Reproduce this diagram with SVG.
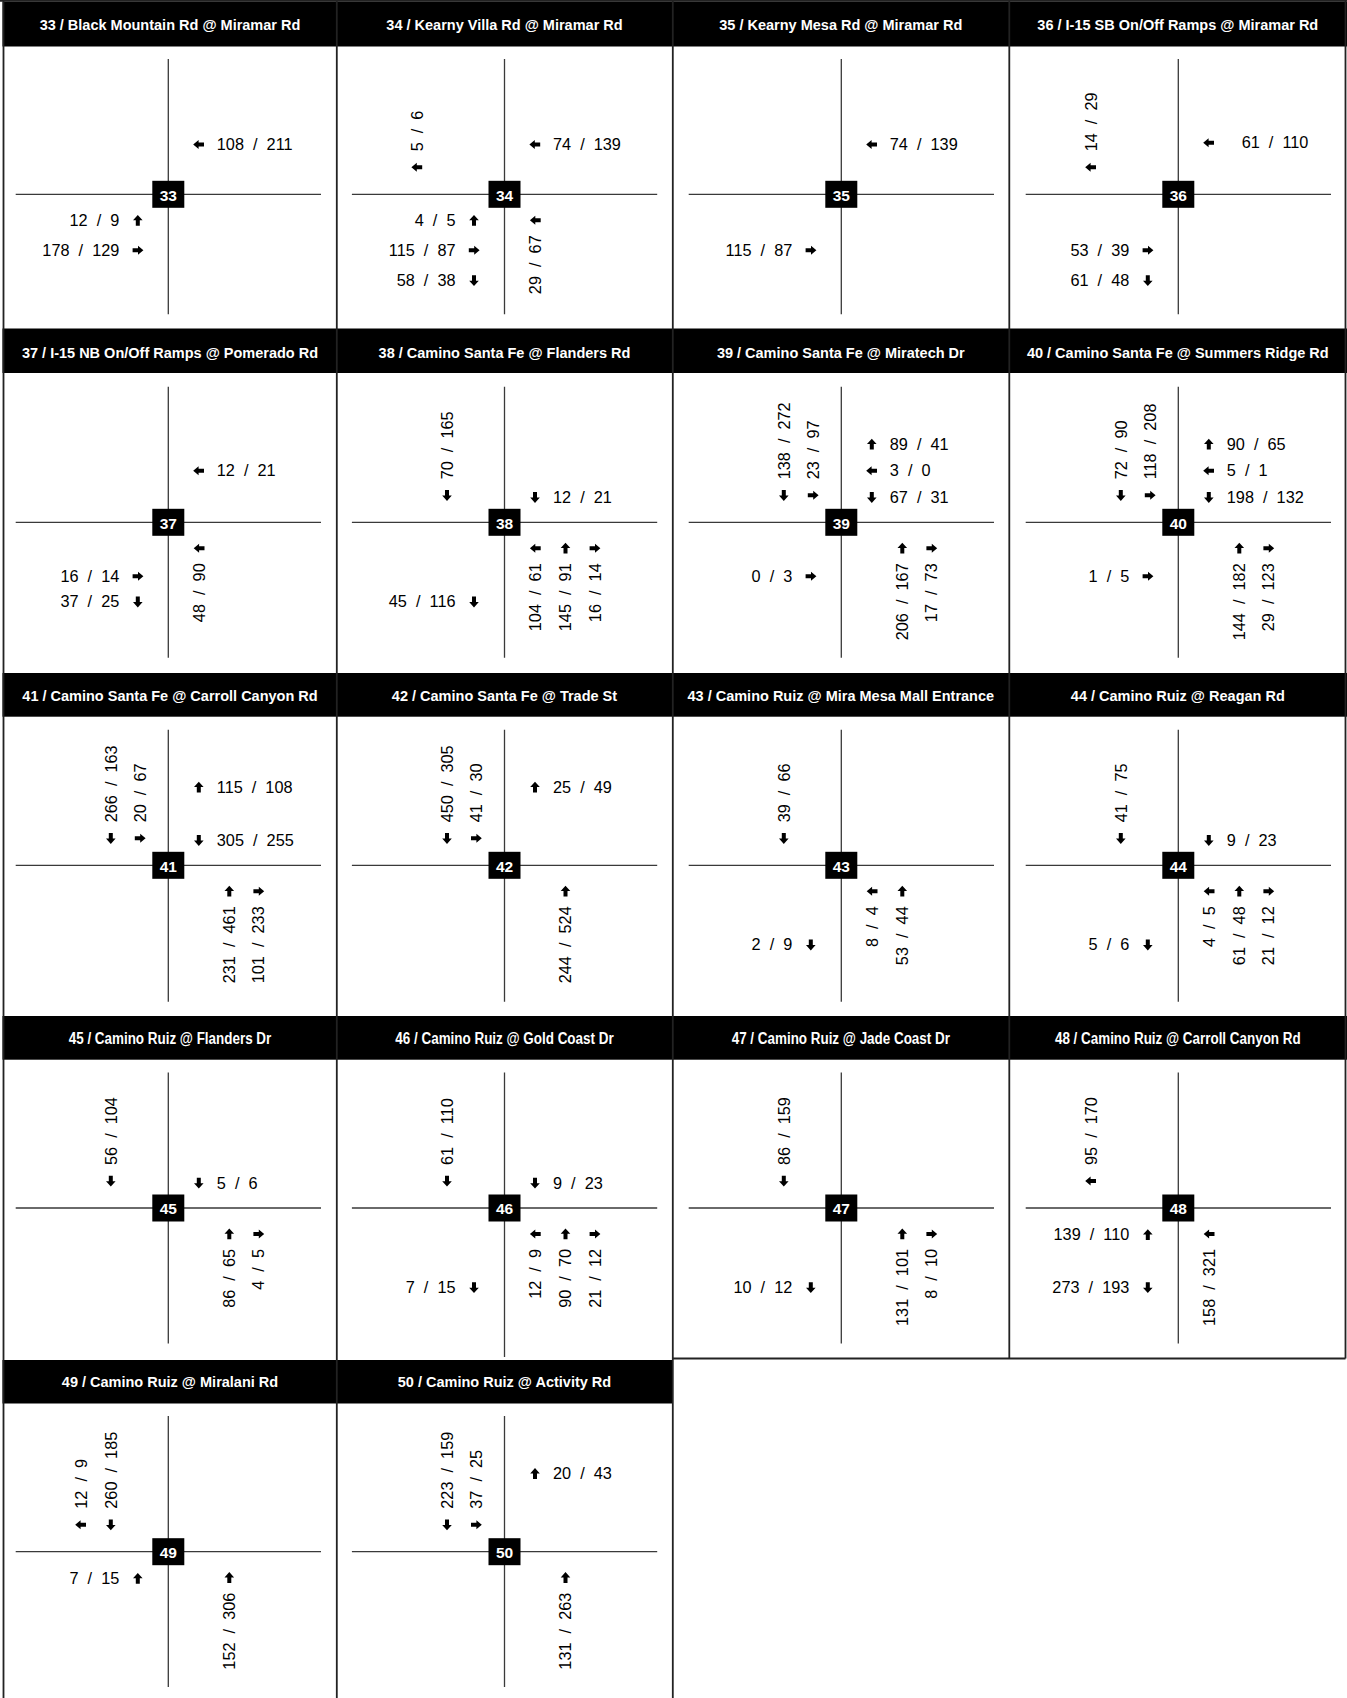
<svg xmlns="http://www.w3.org/2000/svg" width="1347" height="1698" viewBox="0 0 1347 1698">
<style>
.hd{fill:#000}
.ht{font-family:"Liberation Sans",Arial,sans-serif;font-weight:bold;font-size:14.5px;fill:#fff;text-anchor:middle}
.hn{font-size:16px}
.rd{stroke:#3a3a3a;stroke-width:1.3;fill:none}
.bx{fill:#000}
.bt{font-family:"Liberation Sans",Arial,sans-serif;font-weight:bold;font-size:15.5px;fill:#fff;text-anchor:middle}
.n{font-family:"Liberation Sans",Arial,sans-serif;font-size:16.3px;fill:#000}
.e{text-anchor:end}
.fr{stroke:#222;stroke-width:1.8;fill:none}
</style>
<defs>
<path id="au" d="M0,-5.6L4.8,-0.2L2,-0.2L2,5.2L-2,5.2L-2,-0.2L-4.8,-0.2Z" fill="#000"/>
<path id="ad" d="M0,5.6L4.8,0.2L2,0.2L2,-5.2L-2,-5.2L-2,0.2L-4.8,0.2Z" fill="#000"/>
<path id="ar" d="M5.6,0L0.2,4.5L0.2,2L-5.2,2L-5.2,-2L0.2,-2L0.2,-4.5Z" fill="#000"/>
<path id="al" d="M-5.6,0L-0.2,4.5L-0.2,2L5.2,2L5.2,-2L-0.2,-2L-0.2,-4.5Z" fill="#000"/>
</defs>
<rect width="1347" height="1698" fill="#fff"/>

<g id="n33">
<rect class="hd" x="2.5" y="1.5" width="334.5" height="45"/>
<text class="ht" x="170" y="30">33 / Black Mountain Rd @ Miramar Rd</text>
<path class="rd" d="M168.3,59V314.3M15.7,194.3H321"/>
<rect class="bx" x="152.3" y="180.8" width="32" height="27"/>
<text class="bt" x="168.3" y="200.7">33</text>
<use href="#al" x="198.8" y="144.5"/><text class="n" x="216.8" y="150">108&#160;&#160;/&#160;&#160;211</text>
<text class="n e" x="119.3" y="226">12&#160;&#160;/&#160;&#160;9</text><use href="#au" x="137.8" y="220.5"/>
<text class="n e" x="119.3" y="255.7">178&#160;&#160;/&#160;&#160;129</text><use href="#ar" x="137.8" y="250.2"/>
</g>

<g id="n34">
<rect class="hd" x="337" y="1.5" width="336" height="45"/>
<text class="ht" x="504.5" y="30">34 / Kearny Villa Rd @ Miramar Rd</text>
<path class="rd" d="M504.5,59V314.3M351.9,194.3H657.2"/>
<rect class="bx" x="488.5" y="180.8" width="32" height="27"/>
<text class="bt" x="504.5" y="200.7">34</text>
<text class="n" transform="translate(422.8,151.3) rotate(-90)">5&#160;&#160;/&#160;&#160;6</text><use href="#al" x="417" y="167.3"/>
<use href="#al" x="535" y="144.5"/><text class="n" x="553" y="150">74&#160;&#160;/&#160;&#160;139</text>
<text class="n e" x="455.5" y="226">4&#160;&#160;/&#160;&#160;5</text><use href="#au" x="474" y="220.5"/>
<text class="n e" x="455.5" y="255.7">115&#160;&#160;/&#160;&#160;87</text><use href="#ar" x="474" y="250.2"/>
<text class="n e" x="455.5" y="286">58&#160;&#160;/&#160;&#160;38</text><use href="#ad" x="474" y="280.5"/>
<use href="#al" x="535.5" y="220.3"/><text class="n e" transform="translate(541.3,235.3) rotate(-90)">29&#160;&#160;/&#160;&#160;67</text>
</g>

<g id="n35">
<rect class="hd" x="673" y="1.5" width="336.5" height="45"/>
<text class="ht" x="840.8" y="30">35 / Kearny Mesa Rd @ Miramar Rd</text>
<path class="rd" d="M841.3,59V314.3M688.7,194.3H994"/>
<rect class="bx" x="825.3" y="180.8" width="32" height="27"/>
<text class="bt" x="841.3" y="200.7">35</text>
<use href="#al" x="871.8" y="144.5"/><text class="n" x="889.8" y="150">74&#160;&#160;/&#160;&#160;139</text>
<text class="n e" x="792.3" y="255.7">115&#160;&#160;/&#160;&#160;87</text><use href="#ar" x="810.8" y="250.2"/>
</g>

<g id="n36">
<rect class="hd" x="1009.5" y="1.5" width="337.5" height="45"/>
<text class="ht" x="1177.8" y="30">36 / I-15 SB On/Off Ramps @ Miramar Rd</text>
<path class="rd" d="M1178.3,59V314.3M1025.7,194.3H1331"/>
<rect class="bx" x="1162.3" y="180.8" width="32" height="27"/>
<text class="bt" x="1178.3" y="200.7">36</text>
<text class="n" transform="translate(1096.6,151.3) rotate(-90)">14&#160;&#160;/&#160;&#160;29</text><use href="#al" x="1090.8" y="167.3"/>
<use href="#al" x="1208.8" y="142.8"/><text class="n" x="1241.7" y="148.3">61&#160;&#160;/&#160;&#160;110</text>
<text class="n e" x="1129.3" y="255.7">53&#160;&#160;/&#160;&#160;39</text><use href="#ar" x="1147.8" y="250.2"/>
<text class="n e" x="1129.3" y="286">61&#160;&#160;/&#160;&#160;48</text><use href="#ad" x="1147.8" y="280.5"/>
</g>

<g id="n37">
<rect class="hd" x="2.5" y="328.5" width="334.5" height="44.5"/>
<text class="ht" x="170" y="358.3">37 / I-15 NB On/Off Ramps @ Pomerado Rd</text>
<path class="rd" d="M168.3,386.8V657.8M15.7,522.3H321"/>
<rect class="bx" x="152.3" y="508.8" width="32" height="27"/>
<text class="bt" x="168.3" y="528.7">37</text>
<use href="#al" x="198.8" y="470.8"/><text class="n" x="216.8" y="476.3">12&#160;&#160;/&#160;&#160;21</text>
<text class="n e" x="119.3" y="581.7">16&#160;&#160;/&#160;&#160;14</text><use href="#ar" x="137.8" y="576.2"/>
<text class="n e" x="119.3" y="607.3">37&#160;&#160;/&#160;&#160;25</text><use href="#ad" x="137.8" y="601.8"/>
<use href="#al" x="199.3" y="548.3"/><text class="n e" transform="translate(205.1,563.3) rotate(-90)">48&#160;&#160;/&#160;&#160;90</text>
</g>

<g id="n38">
<rect class="hd" x="337" y="328.5" width="336" height="44.5"/>
<text class="ht" x="504.5" y="358.3">38 / Camino Santa Fe @ Flanders Rd</text>
<path class="rd" d="M504.5,386.8V657.8M351.9,522.3H657.2"/>
<rect class="bx" x="488.5" y="508.8" width="32" height="27"/>
<text class="bt" x="504.5" y="528.7">38</text>
<text class="n" transform="translate(452.8,479.3) rotate(-90)">70&#160;&#160;/&#160;&#160;165</text><use href="#ad" x="447" y="495.3"/>
<use href="#ad" x="535" y="497.3"/><text class="n" x="553" y="502.8">12&#160;&#160;/&#160;&#160;21</text>
<text class="n e" x="455.5" y="607.3">45&#160;&#160;/&#160;&#160;116</text><use href="#ad" x="474" y="601.8"/>
<use href="#al" x="535.5" y="548.3"/><text class="n e" transform="translate(541.3,563.3) rotate(-90)">104&#160;&#160;/&#160;&#160;61</text>
<use href="#au" x="565.5" y="548.3"/><text class="n e" transform="translate(571.3,563.3) rotate(-90)">145&#160;&#160;/&#160;&#160;91</text>
<use href="#ar" x="594.8" y="548.3"/><text class="n e" transform="translate(600.6,563.3) rotate(-90)">16&#160;&#160;/&#160;&#160;14</text>
</g>

<g id="n39">
<rect class="hd" x="673" y="328.5" width="336.5" height="44.5"/>
<text class="ht" x="840.8" y="358.3">39 / Camino Santa Fe @ Miratech Dr</text>
<path class="rd" d="M841.3,386.8V657.8M688.7,522.3H994"/>
<rect class="bx" x="825.3" y="508.8" width="32" height="27"/>
<text class="bt" x="841.3" y="528.7">39</text>
<text class="n" transform="translate(789.6,479.3) rotate(-90)">138&#160;&#160;/&#160;&#160;272</text><use href="#ad" x="783.8" y="495.3"/>
<text class="n" transform="translate(818.8,479.3) rotate(-90)">23&#160;&#160;/&#160;&#160;97</text><use href="#ar" x="813" y="495.3"/>
<use href="#au" x="871.8" y="444.3"/><text class="n" x="889.8" y="449.8">89&#160;&#160;/&#160;&#160;41</text>
<use href="#al" x="871.8" y="470.8"/><text class="n" x="889.8" y="476.3">3&#160;&#160;/&#160;&#160;0</text>
<use href="#ad" x="871.8" y="497.3"/><text class="n" x="889.8" y="502.8">67&#160;&#160;/&#160;&#160;31</text>
<text class="n e" x="792.3" y="581.7">0&#160;&#160;/&#160;&#160;3</text><use href="#ar" x="810.8" y="576.2"/>
<use href="#au" x="902.3" y="548.3"/><text class="n e" transform="translate(908.1,563.3) rotate(-90)">206&#160;&#160;/&#160;&#160;167</text>
<use href="#ar" x="931.6" y="548.3"/><text class="n e" transform="translate(937.4,563.3) rotate(-90)">17&#160;&#160;/&#160;&#160;73</text>
</g>

<g id="n40">
<rect class="hd" x="1009.5" y="328.5" width="337.5" height="44.5"/>
<text class="ht" x="1177.8" y="358.3">40 / Camino Santa Fe @ Summers Ridge Rd</text>
<path class="rd" d="M1178.3,386.8V657.8M1025.7,522.3H1331"/>
<rect class="bx" x="1162.3" y="508.8" width="32" height="27"/>
<text class="bt" x="1178.3" y="528.7">40</text>
<text class="n" transform="translate(1126.6,479.3) rotate(-90)">72&#160;&#160;/&#160;&#160;90</text><use href="#ad" x="1120.8" y="495.3"/>
<text class="n" transform="translate(1155.8,479.3) rotate(-90)">118&#160;&#160;/&#160;&#160;208</text><use href="#ar" x="1150" y="495.3"/>
<use href="#au" x="1208.8" y="444.3"/><text class="n" x="1226.8" y="449.8">90&#160;&#160;/&#160;&#160;65</text>
<use href="#al" x="1208.8" y="470.8"/><text class="n" x="1226.8" y="476.3">5&#160;&#160;/&#160;&#160;1</text>
<use href="#ad" x="1208.8" y="497.3"/><text class="n" x="1226.8" y="502.8">198&#160;&#160;/&#160;&#160;132</text>
<text class="n e" x="1129.3" y="581.7">1&#160;&#160;/&#160;&#160;5</text><use href="#ar" x="1147.8" y="576.2"/>
<use href="#au" x="1239.3" y="548.3"/><text class="n e" transform="translate(1245.1,563.3) rotate(-90)">144&#160;&#160;/&#160;&#160;182</text>
<use href="#ar" x="1268.6" y="548.3"/><text class="n e" transform="translate(1274.4,563.3) rotate(-90)">29&#160;&#160;/&#160;&#160;123</text>
</g>

<g id="n41">
<rect class="hd" x="2.5" y="673" width="334.5" height="43.7"/>
<text class="ht" x="170" y="700.7">41 / Camino Santa Fe @ Carroll Canyon Rd</text>
<path class="rd" d="M168.3,729.8V1001.7M15.7,865.3H321"/>
<rect class="bx" x="152.3" y="851.8" width="32" height="27"/>
<text class="bt" x="168.3" y="871.7">41</text>
<text class="n" transform="translate(116.6,822.3) rotate(-90)">266&#160;&#160;/&#160;&#160;163</text><use href="#ad" x="110.8" y="838.3"/>
<text class="n" transform="translate(145.8,822.3) rotate(-90)">20&#160;&#160;/&#160;&#160;67</text><use href="#ar" x="140" y="838.3"/>
<use href="#au" x="198.8" y="787.3"/><text class="n" x="216.8" y="792.8">115&#160;&#160;/&#160;&#160;108</text>
<use href="#ad" x="198.8" y="840.3"/><text class="n" x="216.8" y="845.8">305&#160;&#160;/&#160;&#160;255</text>
<use href="#au" x="229.3" y="891.3"/><text class="n e" transform="translate(235.1,906.3) rotate(-90)">231&#160;&#160;/&#160;&#160;461</text>
<use href="#ar" x="258.6" y="891.3"/><text class="n e" transform="translate(264.4,906.3) rotate(-90)">101&#160;&#160;/&#160;&#160;233</text>
</g>

<g id="n42">
<rect class="hd" x="337" y="673" width="336" height="43.7"/>
<text class="ht" x="504.5" y="700.7">42 / Camino Santa Fe @ Trade St</text>
<path class="rd" d="M504.5,729.8V1001.7M351.9,865.3H657.2"/>
<rect class="bx" x="488.5" y="851.8" width="32" height="27"/>
<text class="bt" x="504.5" y="871.7">42</text>
<text class="n" transform="translate(452.8,822.3) rotate(-90)">450&#160;&#160;/&#160;&#160;305</text><use href="#ad" x="447" y="838.3"/>
<text class="n" transform="translate(482,822.3) rotate(-90)">41&#160;&#160;/&#160;&#160;30</text><use href="#ar" x="476.2" y="838.3"/>
<use href="#au" x="535" y="787.3"/><text class="n" x="553" y="792.8">25&#160;&#160;/&#160;&#160;49</text>
<use href="#au" x="565.5" y="891.3"/><text class="n e" transform="translate(571.3,906.3) rotate(-90)">244&#160;&#160;/&#160;&#160;524</text>
</g>

<g id="n43">
<rect class="hd" x="673" y="673" width="336.5" height="43.7"/>
<text class="ht" x="840.8" y="700.7">43 / Camino Ruiz @ Mira Mesa Mall Entrance</text>
<path class="rd" d="M841.3,729.8V1001.7M688.7,865.3H994"/>
<rect class="bx" x="825.3" y="851.8" width="32" height="27"/>
<text class="bt" x="841.3" y="871.7">43</text>
<text class="n" transform="translate(789.6,822.3) rotate(-90)">39&#160;&#160;/&#160;&#160;66</text><use href="#ad" x="783.8" y="838.3"/>
<text class="n e" x="792.3" y="950.3">2&#160;&#160;/&#160;&#160;9</text><use href="#ad" x="810.8" y="944.8"/>
<use href="#al" x="872.3" y="891.3"/><text class="n e" transform="translate(878.1,906.3) rotate(-90)">8&#160;&#160;/&#160;&#160;4</text>
<use href="#au" x="902.3" y="891.3"/><text class="n e" transform="translate(908.1,906.3) rotate(-90)">53&#160;&#160;/&#160;&#160;44</text>
</g>

<g id="n44">
<rect class="hd" x="1009.5" y="673" width="337.5" height="43.7"/>
<text class="ht" x="1177.8" y="700.7">44 / Camino Ruiz @ Reagan Rd</text>
<path class="rd" d="M1178.3,729.8V1001.7M1025.7,865.3H1331"/>
<rect class="bx" x="1162.3" y="851.8" width="32" height="27"/>
<text class="bt" x="1178.3" y="871.7">44</text>
<text class="n" transform="translate(1126.6,822.3) rotate(-90)">41&#160;&#160;/&#160;&#160;75</text><use href="#ad" x="1120.8" y="838.3"/>
<use href="#ad" x="1208.8" y="840.3"/><text class="n" x="1226.8" y="845.8">9&#160;&#160;/&#160;&#160;23</text>
<text class="n e" x="1129.3" y="950.3">5&#160;&#160;/&#160;&#160;6</text><use href="#ad" x="1147.8" y="944.8"/>
<use href="#al" x="1209.3" y="891.3"/><text class="n e" transform="translate(1215.1,906.3) rotate(-90)">4&#160;&#160;/&#160;&#160;5</text>
<use href="#au" x="1239.3" y="891.3"/><text class="n e" transform="translate(1245.1,906.3) rotate(-90)">61&#160;&#160;/&#160;&#160;48</text>
<use href="#ar" x="1268.6" y="891.3"/><text class="n e" transform="translate(1274.4,906.3) rotate(-90)">21&#160;&#160;/&#160;&#160;12</text>
</g>

<g id="n45">
<rect class="hd" x="2.5" y="1016" width="334.5" height="43.7"/>
<text class="ht hn" x="170" y="1043.7" textLength="202.5" lengthAdjust="spacingAndGlyphs">45 / Camino Ruiz @ Flanders Dr</text>
<path class="rd" d="M168.3,1072.5V1343.5M15.7,1208H321"/>
<rect class="bx" x="152.3" y="1194.5" width="32" height="27"/>
<text class="bt" x="168.3" y="1214.4">45</text>
<text class="n" transform="translate(116.6,1165) rotate(-90)">56&#160;&#160;/&#160;&#160;104</text><use href="#ad" x="110.8" y="1181"/>
<use href="#ad" x="198.8" y="1183"/><text class="n" x="216.8" y="1188.5">5&#160;&#160;/&#160;&#160;6</text>
<use href="#au" x="229.3" y="1234"/><text class="n e" transform="translate(235.1,1249) rotate(-90)">86&#160;&#160;/&#160;&#160;65</text>
<use href="#ar" x="258.6" y="1234"/><text class="n e" transform="translate(264.4,1249) rotate(-90)">4&#160;&#160;/&#160;&#160;5</text>
</g>

<g id="n46">
<rect class="hd" x="337" y="1016" width="336" height="43.7"/>
<text class="ht hn" x="504.5" y="1043.7" textLength="218.3" lengthAdjust="spacingAndGlyphs">46 / Camino Ruiz @ Gold Coast Dr</text>
<path class="rd" d="M504.5,1072.5V1357M351.9,1208H657.2"/>
<rect class="bx" x="488.5" y="1194.5" width="32" height="27"/>
<text class="bt" x="504.5" y="1214.4">46</text>
<text class="n" transform="translate(452.8,1165) rotate(-90)">61&#160;&#160;/&#160;&#160;110</text><use href="#ad" x="447" y="1181"/>
<use href="#ad" x="535" y="1183"/><text class="n" x="553" y="1188.5">9&#160;&#160;/&#160;&#160;23</text>
<text class="n e" x="455.5" y="1293">7&#160;&#160;/&#160;&#160;15</text><use href="#ad" x="474" y="1287.5"/>
<use href="#al" x="535.5" y="1234"/><text class="n e" transform="translate(541.3,1249) rotate(-90)">12&#160;&#160;/&#160;&#160;9</text>
<use href="#au" x="565.5" y="1234"/><text class="n e" transform="translate(571.3,1249) rotate(-90)">90&#160;&#160;/&#160;&#160;70</text>
<use href="#ar" x="594.8" y="1234"/><text class="n e" transform="translate(600.6,1249) rotate(-90)">21&#160;&#160;/&#160;&#160;12</text>
</g>

<g id="n47">
<rect class="hd" x="673" y="1016" width="336.5" height="43.7"/>
<text class="ht hn" x="840.8" y="1043.7" textLength="218.2" lengthAdjust="spacingAndGlyphs">47 / Camino Ruiz @ Jade Coast Dr</text>
<path class="rd" d="M841.3,1072.5V1343.5M688.7,1208H994"/>
<rect class="bx" x="825.3" y="1194.5" width="32" height="27"/>
<text class="bt" x="841.3" y="1214.4">47</text>
<text class="n" transform="translate(789.6,1165) rotate(-90)">86&#160;&#160;/&#160;&#160;159</text><use href="#ad" x="783.8" y="1181"/>
<text class="n e" x="792.3" y="1293">10&#160;&#160;/&#160;&#160;12</text><use href="#ad" x="810.8" y="1287.5"/>
<use href="#au" x="902.3" y="1234"/><text class="n e" transform="translate(908.1,1249) rotate(-90)">131&#160;&#160;/&#160;&#160;101</text>
<use href="#ar" x="931.6" y="1234"/><text class="n e" transform="translate(937.4,1249) rotate(-90)">8&#160;&#160;/&#160;&#160;10</text>
</g>

<g id="n48">
<rect class="hd" x="1009.5" y="1016" width="337.5" height="43.7"/>
<text class="ht hn" x="1177.8" y="1043.7" textLength="245.7" lengthAdjust="spacingAndGlyphs">48 / Camino Ruiz @ Carroll Canyon Rd</text>
<path class="rd" d="M1178.3,1072.5V1343.5M1025.7,1208H1331"/>
<rect class="bx" x="1162.3" y="1194.5" width="32" height="27"/>
<text class="bt" x="1178.3" y="1214.4">48</text>
<text class="n" transform="translate(1096.6,1165) rotate(-90)">95&#160;&#160;/&#160;&#160;170</text><use href="#al" x="1090.8" y="1181"/>
<text class="n e" x="1129.3" y="1240.3">139&#160;&#160;/&#160;&#160;110</text><use href="#au" x="1147.8" y="1234.8"/>
<text class="n e" x="1129.3" y="1293">273&#160;&#160;/&#160;&#160;193</text><use href="#ad" x="1147.8" y="1287.5"/>
<use href="#al" x="1209.3" y="1234"/><text class="n e" transform="translate(1215.1,1249) rotate(-90)">158&#160;&#160;/&#160;&#160;321</text>
</g>

<g id="n49">
<rect class="hd" x="2.5" y="1360" width="334.5" height="43.5"/>
<text class="ht" x="170" y="1386.7">49 / Camino Ruiz @ Miralani Rd</text>
<path class="rd" d="M168.3,1416V1687M15.7,1551.7H321"/>
<rect class="bx" x="152.3" y="1538.2" width="32" height="27"/>
<text class="bt" x="168.3" y="1558.1">49</text>
<text class="n" transform="translate(86.6,1508.7) rotate(-90)">12&#160;&#160;/&#160;&#160;9</text><use href="#al" x="80.8" y="1524.7"/>
<text class="n" transform="translate(116.6,1508.7) rotate(-90)">260&#160;&#160;/&#160;&#160;185</text><use href="#ad" x="110.8" y="1524.7"/>
<text class="n e" x="119.3" y="1584">7&#160;&#160;/&#160;&#160;15</text><use href="#au" x="137.8" y="1578.5"/>
<use href="#au" x="229.3" y="1577.7"/><text class="n e" transform="translate(235.1,1592.7) rotate(-90)">152&#160;&#160;/&#160;&#160;306</text>
</g>

<g id="n50">
<rect class="hd" x="337" y="1360" width="336" height="43.5"/>
<text class="ht" x="504.5" y="1386.7">50 / Camino Ruiz @ Activity Rd</text>
<path class="rd" d="M504.5,1416V1687M351.9,1551.7H657.2"/>
<rect class="bx" x="488.5" y="1538.2" width="32" height="27"/>
<text class="bt" x="504.5" y="1558.1">50</text>
<text class="n" transform="translate(452.8,1508.7) rotate(-90)">223&#160;&#160;/&#160;&#160;159</text><use href="#ad" x="447" y="1524.7"/>
<text class="n" transform="translate(482,1508.7) rotate(-90)">37&#160;&#160;/&#160;&#160;25</text><use href="#ar" x="476.2" y="1524.7"/>
<use href="#au" x="535" y="1473.7"/><text class="n" x="553" y="1479.2">20&#160;&#160;/&#160;&#160;43</text>
<use href="#au" x="565.5" y="1577.7"/><text class="n e" transform="translate(571.3,1592.7) rotate(-90)">131&#160;&#160;/&#160;&#160;263</text>
</g>

<g id="grid">
<path class="fr" d="M3.5,0V1698M336.8,0V1698M672.8,0V1698M1009.3,0V1358.5M1345.5,0V1358.5M672.8,1358.5H1345.5M0,0.9H1347"/>
</g>
</svg>
